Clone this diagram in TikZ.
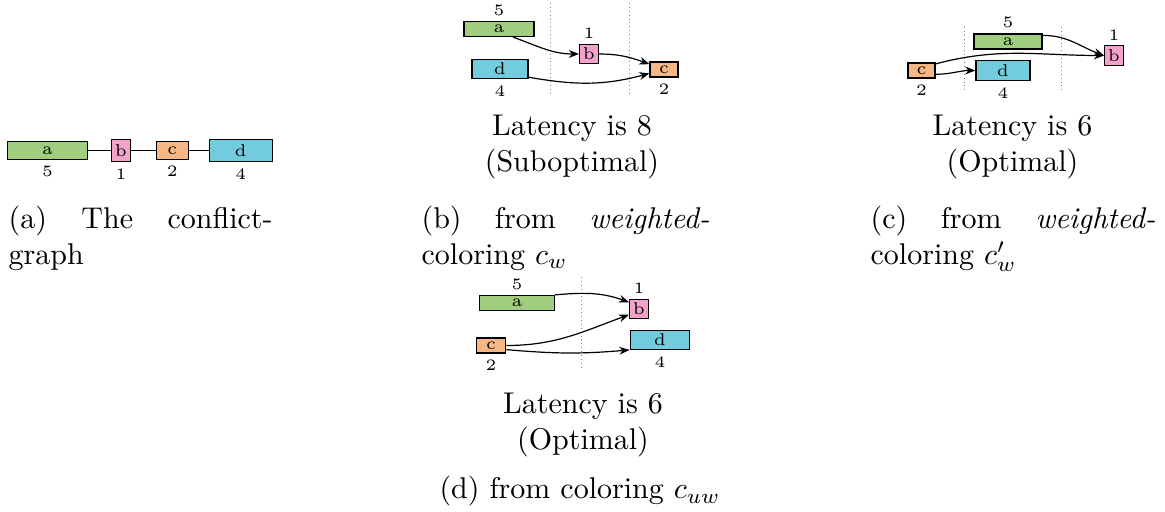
\documentclass[tikz,border=0pt]{standalone}
\usetikzlibrary{positioning,arrows.meta}
\definecolor{clra}{RGB}{160,206,126}
\definecolor{clrb}{RGB}{242,162,203}
\definecolor{clrc}{RGB}{245,184,133}
\definecolor{clrd}{RGB}{115,203,222}
\begin{document}
\begin{tikzpicture}
[x=0.3333pt,y=0.3333pt,
every node/.style={inner sep=0pt},
task/.style={draw,inner xsep=1.5pt,inner ysep=1.2pt,font=\fontsize{5.7}{7}\selectfont},
tall/.style={inner ysep=1.6pt},
ta/.style={task,fill=clra},
tb/.style={task,fill=clrb,inner xsep=1.2pt},
tc/.style={task,fill=clrc},
td/.style={task,fill=clrd},
wt/.style={font=\fontsize{5.3}{6}\selectfont},
dep/.style={-{Stealth[length=3.4pt,width=2.6pt]}},
sep/.style={densely dotted,gray,line width=0.3pt},
lat/.style={align=center},
subcap/.style={align=justify,anchor=north west}]

\useasboundingbox (0,0) rectangle (1165,512);

% (a) conflict graph
\node[ta,tall,minimum width=26.7pt] (a1) at (47.5,361.5) {a};
\node[tb,tall,right=7.6pt of a1] (b1) {b};
\node[tc,tall,minimum width=10.7pt,right=8.2pt of b1] (c1) {c};
\node[td,tall,minimum width=21pt,right=6.6pt of c1] (d1) {d};
\node[wt,below=2pt of a1] (wa1) {5};
\node[wt,below=2pt of b1] (wb1) {1};
\node[wt,below=2pt of c1] (wc1) {2};
\node[wt,below=2pt of d1] (wd1) {4};
\draw (a1) -- (b1) -- (c1) -- (d1);
\node[subcap,text width=88pt] (capa) at (8,307) {(a) The conflict-\linebreak graph};

% (b) weighted coloring c_w
\node[ta,minimum width=23.3pt] (a2) at (499,483) {a};
\node[tb] (b2) at (589,458) {b};
\node[tc,minimum width=9.3pt] (c2) at (664,442.5) {c};
\node[td,minimum width=18.7pt] (d2) at (500,443) {d};
\node[wt,above=1.5pt of a2] (wa2) {5};
\node[wt,above=1.5pt of b2] (wb2) {1};
\node[wt,below=2pt of c2] (wc2) {2};
\node[wt,below=2pt of d2] (wd2) {4};
\draw[sep] (550,509) -- (550,417);
\draw[sep] (629.5,509) -- (629.5,417);
\draw[dep] (a2.-30) to[out=-20,in=180] (b2.west);
\draw[dep] (b2.east) to[out=0,in=160] (c2.160);
\draw[dep] (d2.-16) to[out=-10,in=195] (c2.-165);
\node[lat] (lb) at (572,364.5) {Latency is 8\\(Suboptimal)};
\node[subcap,text width=96pt] (capb) at (421,307) {(b) from \emph{weighted-}\linebreak coloring $c_w$};

% (c) weighted coloring c'_w
\node[ta,minimum width=22.7pt] (a3) at (1008,470.5) {a};
\node[tb] (b3) at (1114,456.5) {b};
\node[tc,minimum width=9pt] (c3) at (921.5,441.5) {c};
\node[td,minimum width=18pt] (d3) at (1003,441.5) {d};
\node[wt,above=1.5pt of a3] (wa3) {5};
\node[wt,above=1.5pt of b3] (wb3) {1};
\node[wt,below=2pt of c3] (wc3) {2};
\node[wt,below=2pt of d3] (wd3) {4};
\draw[sep] (964,485) -- (964,419);
\draw[sep] (1061,485) -- (1061,419);
\draw[dep] (a3.10) to[out=0,in=160] (b3.west);
\draw[dep] (c3.25) to[out=15,in=180] (b3.west);
\draw[dep] (c3.-15) to[out=0,in=180] (d3.west);
\node[lat] (lc) at (1012.5,364.5) {Latency is 6\\(Optimal)};
\node[subcap,text width=95pt] (capc) at (870,307) {(c) from \emph{weighted-}\linebreak coloring $c'_w$};

% (d) unweighted coloring c_uw
\node[ta,minimum width=24.8pt] (a4) at (517,209) {a};
\node[tb] (b4) at (639,203) {b};
\node[tc,minimum width=9.9pt] (c4) at (491,166.5) {c};
\node[td,minimum width=19.9pt] (d4) at (660,172) {d};
\node[wt,above=1.5pt of a4] (wa4) {5};
\node[wt,above=1.5pt of b4] (wb4) {1};
\node[wt,below=2pt of c4] (wc4) {2};
\node[wt,below=2pt of d4] (wd4) {4};
\draw[sep] (581,235) -- (581,142);
\draw[dep] (a4.north east) to[out=5,in=160] (b4.146);
\draw[dep] (c4.east) to[out=0,in=200] (b4.210);
\draw[dep] (c4.-15) to[out=-5,in=185] (d4.-162);
\node[lat] (ld) at (583,87) {Latency is 6\\(Optimal)};
\node[anchor=base] (capd) at (580,13) {(d) from coloring $c_{uw}$};
\end{tikzpicture}
\end{document}
